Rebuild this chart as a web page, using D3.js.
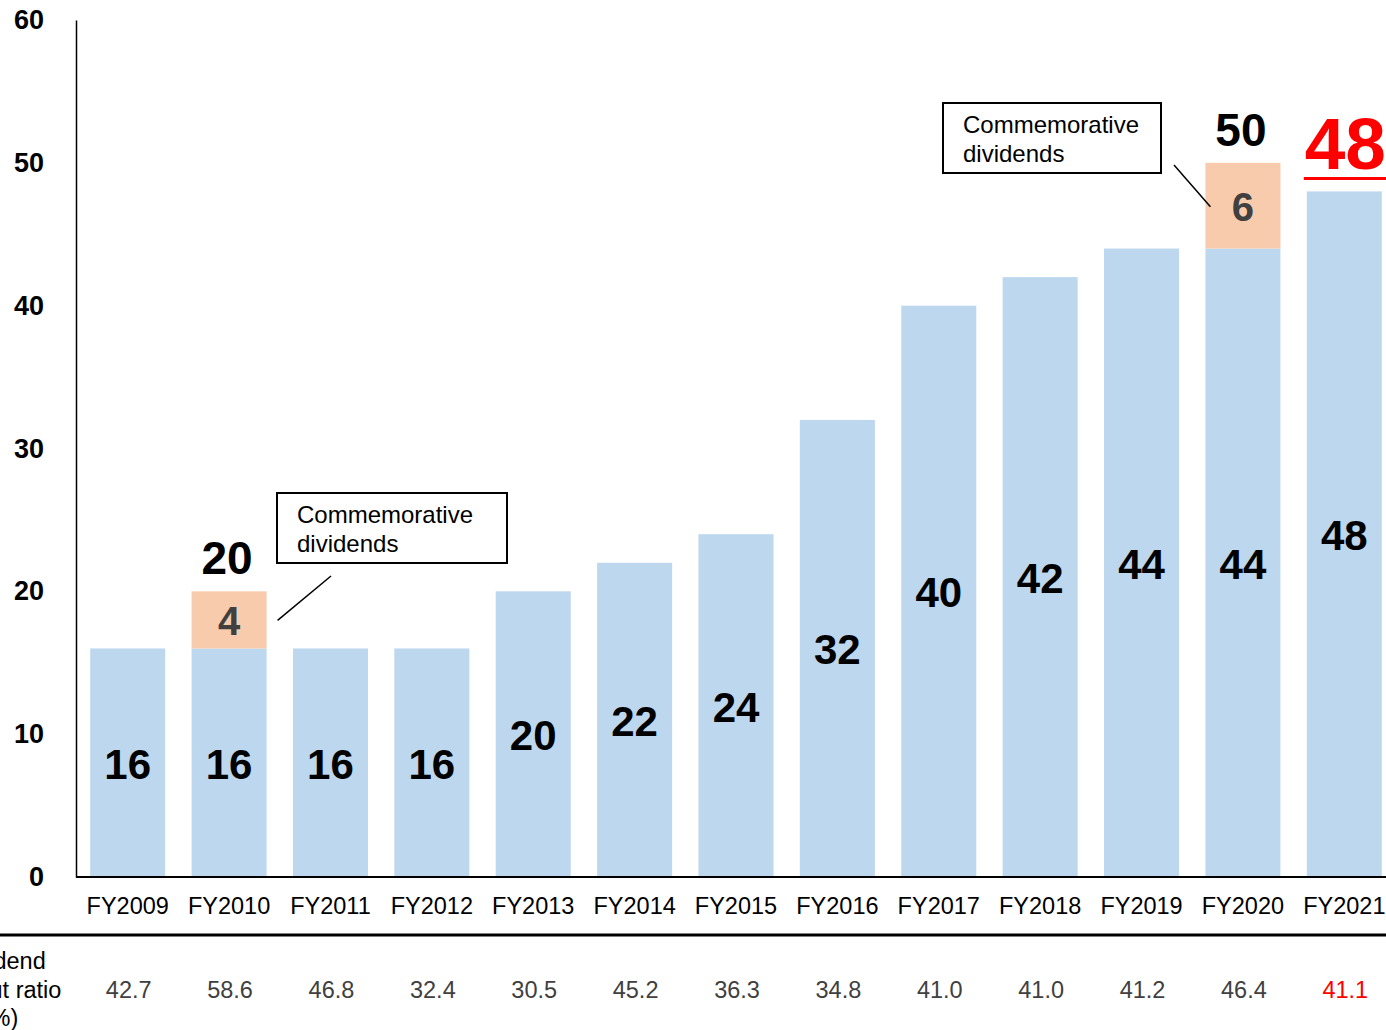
<!DOCTYPE html>
<html>
<head>
<meta charset="utf-8">
<script src="https://cdn.jsdelivr.net/npm/d3@7"></script>
<style>
  html, body { margin: 0; padding: 0; background: #fff; }
  svg { display: block; font-family: "Liberation Sans", Arial, sans-serif; }
</style>
</head>
<body>
<svg id="chart" width="1386" height="1030"></svg>
<script>
// Dividend per share (yen) by fiscal year
const years = ["FY2009","FY2010","FY2011","FY2012","FY2013","FY2014","FY2015","FY2016","FY2017","FY2018","FY2019","FY2020","FY2021"];
const ordinaryDividends = [16, 16, 16, 16, 20, 22, 24, 32, 40, 42, 44, 44, 48];
const commemorativeDividends = [0, 4, 0, 0, 0, 0, 0, 0, 0, 0, 0, 6, 0];
const payoutRatios = ["42.7","58.6","46.8","32.4","30.5","45.2","36.3","34.8","41.0","41.0","41.2","46.4","41.1"];
const yTicks = [0, 10, 20, 30, 40, 50, 60];
const rowLabel = ["Dividend", "payout ratio", "(%)"];
const noteText = ["Commemorative", "dividends"];
const highlightYear = "FY2021";

const svg = d3.select("#chart");
const font = "'Liberation Sans', Arial, sans-serif";

const x = d3.scaleBand().domain(years).range([77, 1395]).paddingInner(0.26).paddingOuter(0.13);
const y = d3.scaleLinear().domain([0, 60]).range([877, 20]);

const rows = years.map((yr, i) => ({
  year: yr,
  base: ordinaryDividends[i],
  extra: commemorativeDividends[i],
  total: ordinaryDividends[i] + commemorativeDividends[i],
  ratio: payoutRatios[i]
}));

// Ordinary dividend bars
svg.append("g").selectAll("rect").data(rows).join("rect")
  .attr("x", d => x(d.year))
  .attr("width", x.bandwidth())
  .attr("y", d => y(d.base))
  .attr("height", d => y(0) - y(d.base))
  .attr("fill", "#BDD7EE");

// Commemorative dividend segments stacked on top
const extras = rows.filter(d => d.extra > 0);
svg.append("g").selectAll("rect").data(extras).join("rect")
  .attr("x", d => x(d.year))
  .attr("width", x.bandwidth())
  .attr("y", d => y(d.total))
  .attr("height", d => y(d.base) - y(d.total))
  .attr("fill", "#F8CBAD");

// Y axis
const yAxis = svg.append("g").attr("transform", "translate(76,0)")
  .call(d3.axisLeft(y).tickValues(yTicks).tickSize(0).tickSizeOuter(0).tickPadding(32));
yAxis.select(".domain").attr("stroke", "#000").attr("stroke-width", 1.5);
yAxis.selectAll("text")
  .attr("font-family", font).attr("font-size", 27).attr("font-weight", "bold").attr("fill", "#000");

// X axis baseline and category labels
const xAxis = svg.append("g").attr("transform", "translate(0,877)")
  .call(d3.axisBottom(x).tickSize(0).tickSizeOuter(0));
xAxis.select(".domain").remove();
xAxis.append("line").attr("x1", 76).attr("x2", 1386).attr("y1", 0).attr("y2", 0)
  .attr("stroke", "#000").attr("stroke-width", 2);
xAxis.selectAll(".tick text")
  .attr("y", 37).attr("dy", 0)
  .attr("font-family", font).attr("font-size", 23.5).attr("fill", "#000");

// Values inside the ordinary bars
svg.append("g").selectAll("text").data(rows).join("text")
  .attr("x", d => x(d.year) + x.bandwidth() / 2)
  .attr("y", d => (y(d.base) + y(0)) / 2 + 16)
  .attr("text-anchor", "middle")
  .attr("font-family", font).attr("font-size", 42).attr("font-weight", "bold")
  .attr("fill", "#000")
  .text(d => d.base);

// Values inside commemorative segments
svg.append("g").selectAll("text").data(extras).join("text")
  .attr("x", d => x(d.year) + x.bandwidth() / 2)
  .attr("y", d => (y(d.base) + y(d.total)) / 2 + 15)
  .attr("text-anchor", "middle")
  .attr("font-family", font).attr("font-size", 40).attr("font-weight", "bold")
  .attr("fill", "#404040")
  .text(d => d.extra);

// Totals above stacked bars
svg.append("g").selectAll("text").data(extras).join("text")
  .attr("x", d => x(d.year) + x.bandwidth() / 2 - 2)
  .attr("y", d => y(d.total) - 17)
  .attr("text-anchor", "middle")
  .attr("font-family", font).attr("font-size", 46).attr("font-weight", "bold")
  .attr("fill", "#000")
  .text(d => d.total);

// Highlighted latest-year total with underline
const hl = rows.find(d => d.year === highlightYear);
const hlx = x(hl.year) + x.bandwidth() / 2;
svg.append("text")
  .attr("x", hlx + 1).attr("y", y(hl.total) - 22)
  .attr("text-anchor", "middle")
  .attr("font-family", font).attr("font-size", 73).attr("font-weight", "bold")
  .attr("fill", "#FF0000")
  .text(hl.total);
svg.append("line")
  .attr("x1", x(hl.year) - 3).attr("x2", 1386)
  .attr("y1", y(hl.total) - 13).attr("y2", y(hl.total) - 13)
  .attr("stroke", "#FF0000").attr("stroke-width", 3);

// Callout boxes for commemorative dividends
function callout(bx, by, bw, bh, lx1, ly1, lx2, ly2) {
  const g = svg.append("g");
  g.append("rect").attr("x", bx).attr("y", by).attr("width", bw).attr("height", bh)
    .attr("fill", "#fff").attr("stroke", "#000").attr("stroke-width", 2);
  noteText.forEach((t, i) => {
    g.append("text").attr("x", bx + 20).attr("y", by + 30 + i * 29)
      .attr("font-family", font).attr("font-size", 24).attr("fill", "#000").text(t);
  });
  g.append("line").attr("x1", lx1).attr("y1", ly1).attr("x2", lx2).attr("y2", ly2)
    .attr("stroke", "#000").attr("stroke-width", 1.5);
}
const e1 = extras[0], e2 = extras[1];
callout(277, 493, 230, 70,
  331, 576, x(e1.year) + x.bandwidth() + 11, y(e1.total) + 29);
callout(943, 103, 218, 70,
  1174, 165, x(e2.year) + 5, y(e2.total) + 44);

// Separator above payout ratio row
svg.append("line").attr("x1", 0).attr("x2", 1386).attr("y1", 935).attr("y2", 935)
  .attr("stroke", "#000").attr("stroke-width", 3);

// Row label
const rl = svg.append("text").attr("text-anchor", "middle")
  .attr("font-family", font).attr("font-size", 23.5).attr("fill", "#000");
rowLabel.forEach((t, i) => {
  rl.append("tspan").attr("x", 0).attr("y", 969 + i * 28.5).text(t);
});

// Payout ratio values
svg.append("g").selectAll("text").data(rows).join("text")
  .attr("x", d => x(d.year) + x.bandwidth() / 2 + 1)
  .attr("y", 998)
  .attr("text-anchor", "middle")
  .attr("font-family", font).attr("font-size", 23.5)
  .attr("fill", d => d.year === highlightYear ? "#FF0000" : "#404040")
  .text(d => d.ratio);
</script>
</body>
</html>
